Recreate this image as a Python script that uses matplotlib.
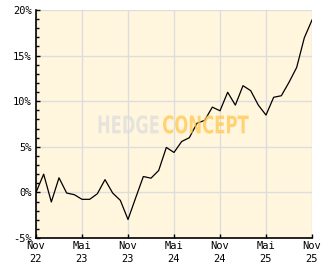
import matplotlib
matplotlib.use('Agg')
import matplotlib.pyplot as plt
import numpy as np
from matplotlib.ticker import MultipleLocator, FuncFormatter
from matplotlib.textpath import TextPath
from matplotlib.patches import PathPatch
from matplotlib.font_manager import FontProperties
from matplotlib.transforms import Affine2D

# monthly performance in %, Nov 22 .. Nov 25
values = [0.0, 2.0, -1.05, 1.6, -0.07, -0.25, -0.76, -0.76, -0.15, 1.4,
          -0.07, -0.87, -2.97, -0.6, 1.74, 1.56, 2.4, 4.93, 4.38, 5.58,
          6.0, 7.58, 7.9, 9.35, 8.95, 10.98, 9.57, 11.7, 11.16, 9.57,
          8.48, 10.43, 10.6, 12.07, 13.7, 16.96, 18.9]
tick_months = [0, 6, 12, 18, 24, 30, 36]
tick_labels = ['Nov\n22', 'Mai\n23', 'Nov\n23', 'Mai\n24', 'Nov\n24', 'Mai\n25', 'Nov\n25']
y_ticks = [-5, 0, 5, 10, 15, 20]

W, H = 332, 269
AX_L, AX_B, AX_W, AX_H = 36., 31., 276., 228.
fig = plt.figure(figsize=(W/100., H/100.), dpi=100)
fig.patch.set_facecolor('white')
ax = fig.add_axes([AX_L/W, AX_B/H, AX_W/W, AX_H/H])
ax.set_facecolor('#fff6dd')

x = np.arange(len(values))
ax.set_xlim(0, 36)
ax.set_ylim(-5, 20)

ax.set_xticks(tick_months)
ax.set_xticklabels(tick_labels)
ax.set_yticks(y_ticks)
ax.yaxis.set_major_formatter(FuncFormatter(lambda v, p: '%d%%' % v))
ax.yaxis.set_minor_locator(MultipleLocator(1))

ax.grid(True, which='major', color='#dddddd', linewidth=1.0, zorder=0)
ax.set_axisbelow(True)

for s in ['top', 'right']:
    ax.spines[s].set_visible(False)
for s in ['left', 'bottom']:
    ax.spines[s].set_linewidth(1.2)
    ax.spines[s].set_color('black')

mono = 'DejaVu Sans Mono'
ax.tick_params(axis='both', which='major', direction='in', length=3,
               width=1, labelsize=7.5, pad=3)
ax.tick_params(axis='y', which='minor', direction='in', length=2.2, width=1)
ax.tick_params(axis='x', which='major', pad=2)
for lab in ax.get_xticklabels() + ax.get_yticklabels():
    lab.set_family(mono)
for lab in ax.get_xticklabels():
    lab.set_linespacing(1.45)

ax.plot(x, values, color='black', linewidth=0.9, zorder=3)

# watermark, squeezed into a pixel box (x0, x1, ytop, ybottom in figure px from top)
def logo(word, box, color, alpha):
    tp = TextPath((0, 0), word, size=1, prop=FontProperties(family='DejaVu Sans', weight='bold'))
    ext = tp.get_extents()
    x0, x1, yt, yb = box
    fx0 = (x0 - AX_L) / AX_W
    fx1 = (x1 - AX_L) / AX_W
    fy0 = ((H - yb) - AX_B) / AX_H
    fy1 = ((H - yt) - AX_B) / AX_H
    tr = (Affine2D().translate(-ext.x0, -ext.y0)
          .scale((fx1 - fx0) / ext.width, (fy1 - fy0) / ext.height)
          .translate(fx0, fy0) + ax.transAxes)
    ax.add_patch(PathPatch(tp, transform=tr, facecolor=color, edgecolor='none',
                           alpha=alpha, zorder=4))

logo('HEDGE', (98.5, 158.7, 115.3, 133.7), '#dcdcdc', 0.7)
logo('CONCEPT', (163.0, 248.7, 115.3, 133.7), '#ffc850', 0.75)

fig.savefig('out.png', dpi=100)
plt.close(fig)
